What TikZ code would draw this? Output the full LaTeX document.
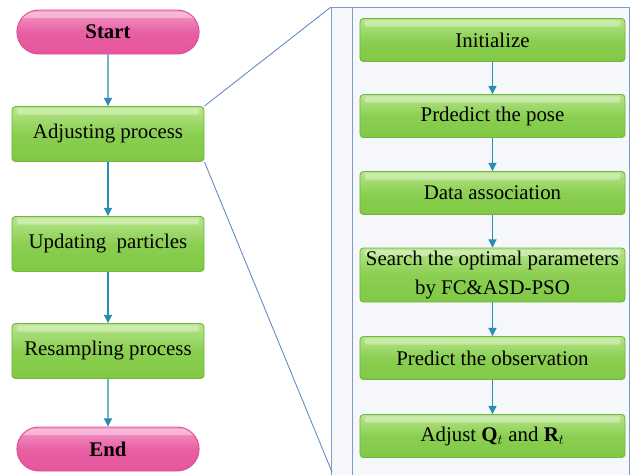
\documentclass[tikz,border=0pt]{standalone}
\usepackage{fontspec}
\setmainfont{Liberation Serif}
\usetikzlibrary{arrows.meta,shapes.misc}
\definecolor{gtop}{HTML}{B6E58A}
\definecolor{gbot}{HTML}{80C944}
\definecolor{gline}{HTML}{71B63E}
\definecolor{ptop}{HTML}{F49CC8}
\definecolor{pbot}{HTML}{E6559D}
\definecolor{pline}{HTML}{DE4C93}
\definecolor{arrowblue}{HTML}{2A8DB2}
\definecolor{projblue}{HTML}{5A84C2}
\definecolor{panelfill}{HTML}{F5F7FB}
\definecolor{panelline}{HTML}{7F9BC8}
\tikzset{
  gloss/.style={path picture={\fill[white,opacity=0.35,rounded corners=2pt]
    ([xshift=4pt,yshift=-1.5pt]path picture bounding box.north west) rectangle
    ([xshift=-4pt,yshift=-7pt]path picture bounding box.north east);}},
  procbox/.style={draw=gline,line width=0.8pt,rounded corners=3pt,top color=gtop,bottom color=gbot,
    middle color=gbot!80!gtop,gloss,align=center,inner sep=1pt,font=\fontsize{17.8}{20}\selectfont},
  leftbox/.style={procbox,minimum width=5.76cm,minimum height=1.65cm},
  rightbox/.style={procbox,minimum width=7.95cm,minimum height=1.29cm},
  terminal/.style={rounded rectangle,draw=pline,line width=0.8pt,top color=ptop,bottom color=pbot,
    middle color=pbot!85!ptop,gloss,minimum width=5.7cm,minimum height=1.32cm,font=\fontsize{17.8}{20}\selectfont\bfseries},
  flowarrow/.style={arrowblue,line width=0.9pt,-{Triangle[width=7pt,length=7pt]}},
  projline/.style={projblue,line width=0.7pt}
}
\begin{document}
\begin{tikzpicture}[x=0.03cm,y=-0.03cm]
\useasboundingbox (0,0) rectangle (638,475);
\fill[panelfill] (331,7) rectangle (629,475);
\draw[panelline,line width=0.7pt] (331,475) |- (629,7) -- (629,475);
\draw[panelline,line width=0.7pt] (352,7) -- (352,475);
\coordinate (ptop) at (331,7);
\coordinate (pbot) at (332,472);
\node[terminal] (start) at (108,32) {Start};
\node[leftbox] (adjust) at (108,134) {Adjusting process};
\node[leftbox] (update) at (108,244) {Updating\ \ particles};
\node[leftbox] (resample) at (108,351) {Resampling process};
\node[terminal] (end) at (108,449) {End};
\node[rightbox] (init) at (492.5,40) {Initialize};
\node[rightbox] (pose) at (492.5,116) {Prdedict the pose};
\node[rightbox] (assoc) at (492.5,193) {Data association};
\node[rightbox,minimum height=1.62cm,font=\fontsize{17.8}{24}\selectfont] (search) at (492.5,275) {Search the optimal parameters\\by FC\&ASD-PSO};
\node[rightbox] (obs) at (492.5,358) {Predict the observation};
\node[rightbox] (adjqr) at (492.5,436) {Adjust $\mathbf{Q}_t$ and $\mathbf{R}_t$};
\foreach \a/\b in {start/adjust,adjust/update,update/resample,resample/end,init/pose,pose/assoc,assoc/search,search/obs,obs/adjqr}
\draw[flowarrow] (\a) -- (\b);
\draw[projline] (adjust.north east) -- (ptop);
\draw[projline] (adjust.south east) -- (pbot);
\end{tikzpicture}
\end{document}
